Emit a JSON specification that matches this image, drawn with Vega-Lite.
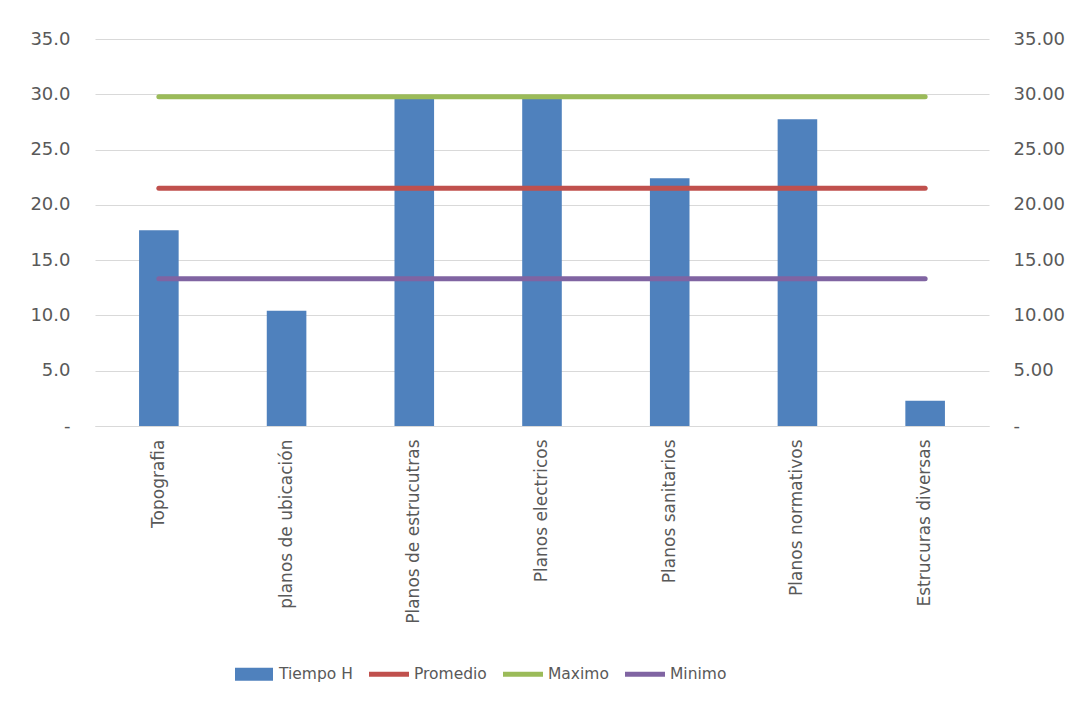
{
  "$schema": "https://vega.github.io/schema/vega-lite/v6.json",
  "autosize": {"type": "none"},
  "padding": {"left": 95, "top": 39, "right": 89, "bottom": 281},
  "width": 894,
  "height": 387,
  "background": "white",
  "config": {
    "font": "DejaVu Sans",
    "view": {"stroke": null},
    "axis": {"labelColor": "#595959", "labelFont": "DejaVu Sans", "ticks": false, "titleColor": "#595959"},
    "legend": {"labelFont": "DejaVu Sans"}
  },
  "datasets": {
    "barras": [
      {"categoria": "Topografia", "serie": "Tiempo H", "valor": 17.7},
      {"categoria": "planos de ubicación", "serie": "Tiempo H", "valor": 10.43},
      {"categoria": "Planos de estrucutras", "serie": "Tiempo H", "valor": 29.77},
      {"categoria": "Planos electricos", "serie": "Tiempo H", "valor": 29.77},
      {"categoria": "Planos sanitarios", "serie": "Tiempo H", "valor": 22.4},
      {"categoria": "Planos  normativos", "serie": "Tiempo H", "valor": 27.74},
      {"categoria": "Estrucuras diversas", "serie": "Tiempo H", "valor": 2.29}
    ],
    "lineas": [
      {"categoria": "Topografia", "serie": "Promedio", "valor": 21.5},
      {"categoria": "planos de ubicación", "serie": "Promedio", "valor": 21.5},
      {"categoria": "Planos de estrucutras", "serie": "Promedio", "valor": 21.5},
      {"categoria": "Planos electricos", "serie": "Promedio", "valor": 21.5},
      {"categoria": "Planos sanitarios", "serie": "Promedio", "valor": 21.5},
      {"categoria": "Planos  normativos", "serie": "Promedio", "valor": 21.5},
      {"categoria": "Estrucuras diversas", "serie": "Promedio", "valor": 21.5},
      {"categoria": "Topografia", "serie": "Maximo", "valor": 29.77},
      {"categoria": "planos de ubicación", "serie": "Maximo", "valor": 29.77},
      {"categoria": "Planos de estrucutras", "serie": "Maximo", "valor": 29.77},
      {"categoria": "Planos electricos", "serie": "Maximo", "valor": 29.77},
      {"categoria": "Planos sanitarios", "serie": "Maximo", "valor": 29.77},
      {"categoria": "Planos  normativos", "serie": "Maximo", "valor": 29.77},
      {"categoria": "Estrucuras diversas", "serie": "Maximo", "valor": 29.77},
      {"categoria": "Topografia", "serie": "Minimo", "valor": 13.32},
      {"categoria": "planos de ubicación", "serie": "Minimo", "valor": 13.32},
      {"categoria": "Planos de estrucutras", "serie": "Minimo", "valor": 13.32},
      {"categoria": "Planos electricos", "serie": "Minimo", "valor": 13.32},
      {"categoria": "Planos sanitarios", "serie": "Minimo", "valor": 13.32},
      {"categoria": "Planos  normativos", "serie": "Minimo", "valor": 13.32},
      {"categoria": "Estrucuras diversas", "serie": "Minimo", "valor": 13.32}
    ]
  },
  "layer": [
    {
      "data": {"name": "barras"},
      "mark": {"type": "bar", "color": "#4f81bd"},
      "encoding": {
        "x": {
          "field": "categoria", "type": "nominal", "sort": null, "title": null,
          "scale": {"paddingInner": 0.69, "paddingOuter": 0.345},
          "axis": {
            "labelAngle": -90, "labelFontSize": 17, "labelPadding": 13,
            "domainColor": "#d9d9d9", "domainWidth": 1, "labelLimit": 300
          }
        },
        "y": {
          "field": "valor", "type": "quantitative", "title": null,
          "scale": {"domain": [0, 35], "nice": false},
          "axis": {
            "orient": "left", "values": [0, 5, 10, 15, 20, 25, 30, 35],
            "labelExpr": "datum.value === 0 ? '-\u00a0\u00a0' : format(datum.value, '.1f')",
            "labelFontSize": 18, "labelPadding": 25, "domain": false,
            "grid": true, "gridColor": "#d9d9d9", "gridWidth": 1
          }
        }
      }
    },
    {
      "layer": [
        {
          "data": {"name": "lineas"},
          "mark": {"type": "line", "strokeWidth": 5, "strokeCap": "round"},
          "encoding": {
            "x": {
              "field": "categoria", "type": "nominal", "sort": null, "title": null,
              "scale": {"paddingInner": 0.69, "paddingOuter": 0.345},
              "axis": {
                "labelAngle": -90, "labelFontSize": 17, "labelPadding": 13,
                "domainColor": "#d9d9d9", "domainWidth": 1, "labelLimit": 300
              }
            },
            "y": {
              "field": "valor", "type": "quantitative", "title": null,
              "scale": {"domain": [0, 35], "nice": false},
              "axis": {
                "orient": "right", "values": [0, 5, 10, 15, 20, 25, 30, 35],
                "labelExpr": "datum.value === 0 ? '-' : format(datum.value, '.2f')",
                "labelFontSize": 18, "labelPadding": 24, "domain": false, "grid": false
              }
            },
            "stroke": {
              "field": "serie", "type": "nominal", "legend": null,
              "scale": {
                "domain": ["Promedio", "Maximo", "Minimo"],
                "range": ["#c0504d", "#9bbb59", "#8064a2"]
              }
            }
          }
        },
        {
          "data": {"name": "lineas"},
          "mark": {"type": "point", "filled": true, "size": 0},
          "encoding": {
            "x": {
              "field": "categoria", "type": "nominal", "sort": null, "title": null,
              "scale": {"paddingInner": 0.69, "paddingOuter": 0.345},
              "axis": {
                "labelAngle": -90, "labelFontSize": 17, "labelPadding": 13,
                "domainColor": "#d9d9d9", "domainWidth": 1, "labelLimit": 300
              }
            },
            "y": {
              "field": "valor", "type": "quantitative", "title": null,
              "scale": {"domain": [0, 35], "nice": false},
              "axis": {
                "orient": "right", "values": [0, 5, 10, 15, 20, 25, 30, 35],
                "labelExpr": "datum.value === 0 ? '-' : format(datum.value, '.2f')",
                "labelFontSize": 18, "labelPadding": 24, "domain": false, "grid": false
              }
            },
            "color": {
              "field": "serie", "type": "nominal",
              "scale": {
                "domain": ["Tiempo H", "Promedio", "Maximo", "Minimo"],
                "range": ["#4f81bd", "#c0504d", "#9bbb59", "#8064a2"]
              },
              "legend": {
                "title": null, "orient": "none", "direction": "horizontal",
                "legendX": 139, "legendY": 615, "symbolSize": 1600,
                "labelFontSize": 15.5, "labelColor": "#595959", "labelOffset": 5,
                "columnPadding": 16, "symbolStrokeWidth": 0, "symbolOpacity": 1
              }
            },
            "shape": {
              "field": "serie", "type": "nominal",
              "scale": {
                "domain": ["Tiempo H", "Promedio", "Maximo", "Minimo"],
                "range": [
                  "M-0.95,-0.32H0.95V0.32H-0.95Z",
                  "M-1,-0.12H1V0.12H-1Z",
                  "M-1,-0.12H1V0.12H-1Z",
                  "M-1,-0.12H1V0.12H-1Z"
                ]
              },
              "legend": {
                "title": null, "orient": "none", "direction": "horizontal",
                "legendX": 139, "legendY": 615, "symbolSize": 1600,
                "labelFontSize": 15.5, "labelColor": "#595959", "labelOffset": 5,
                "columnPadding": 16, "symbolStrokeWidth": 0, "symbolOpacity": 1
              }
            }
          }
        }
      ]
    }
  ],
  "resolve": {"scale": {"y": "independent"}}
}
